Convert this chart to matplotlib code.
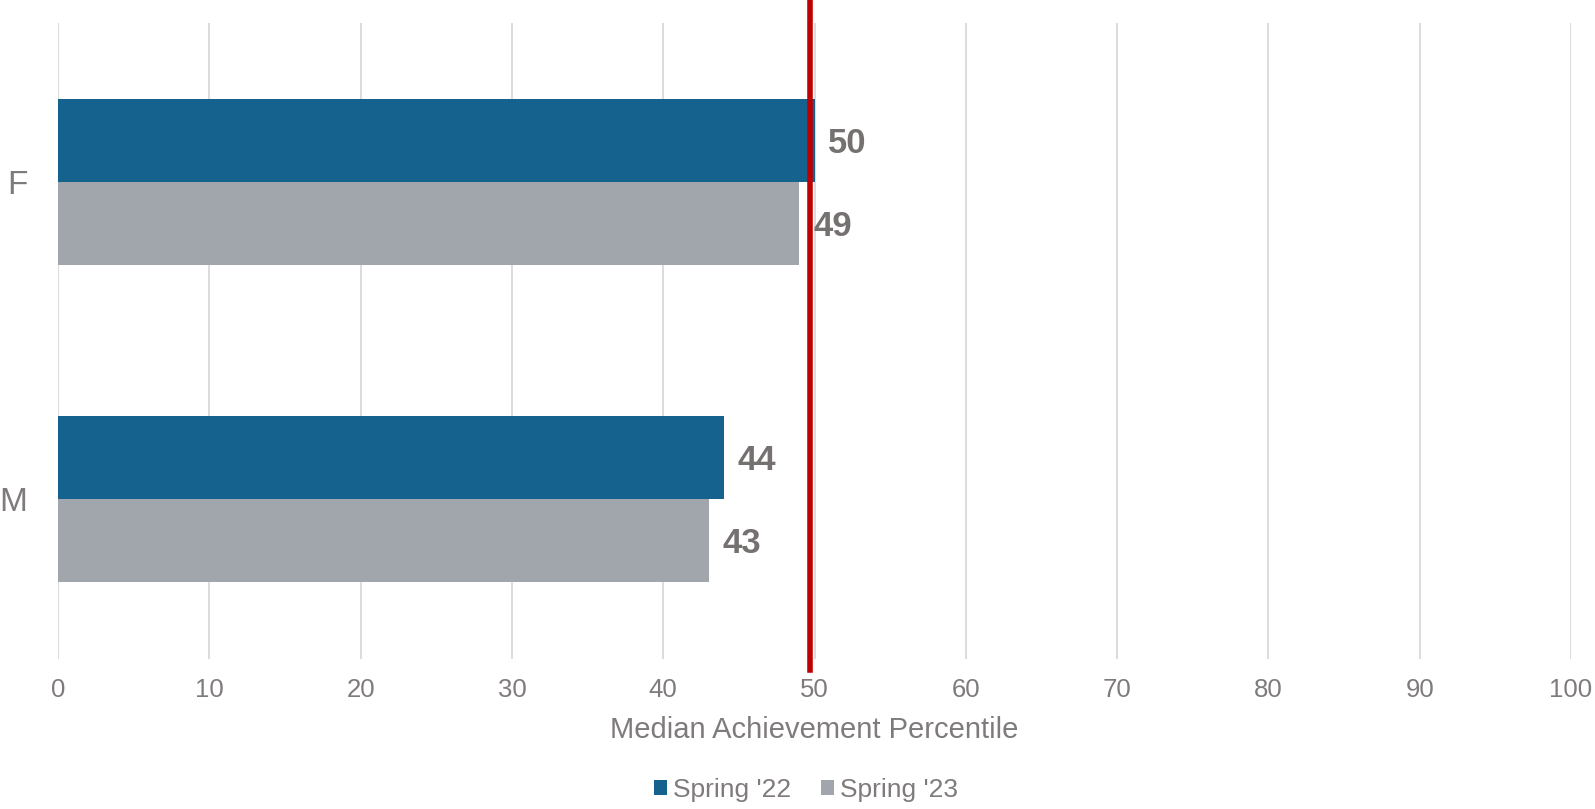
import matplotlib
matplotlib.use("Agg")
import matplotlib.pyplot as plt
from matplotlib.patches import Patch

categories = ["F", "M"]
spring22 = [50, 44]
spring23 = [49, 43]
series_names = ["Spring '22", "Spring '23"]
benchmark = 49.7
xticks = list(range(0, 101, 10))
xlabel = "Median Achievement Percentile"

blue = "#15628F"
gray = "#A0A6AC"
red = "#C00000"
text_gray = "#767171"
tick_gray = "#807B7B"
grid_gray = "#D9D9D9"

plt.rcParams["font.family"] = ["Liberation Sans", "DejaVu Sans"]

W, H, DPI = 1595, 809, 100
fig = plt.figure(figsize=(W / DPI, H / DPI), dpi=DPI)
ax = fig.add_axes([58 / W, 1 - 659 / H, (1571 - 58) / W, (659 - 22.5) / H])

n = len(categories)
ypos = [n - 1 - i for i in range(n)]  # F on top
h = 0.262
for y, v22, v23 in zip(ypos, spring22, spring23):
    ax.barh(y + h / 2, v22, height=h, color=blue, zorder=2)
    ax.barh(y - h / 2, v23, height=h, color=gray, zorder=2)
    ax.annotate(f"{v22}", xy=(v22, y + h / 2), xytext=(10, -2), textcoords="offset points",
                ha="left", va="center", fontsize=25, fontweight="bold", color=text_gray, zorder=3)
    ax.annotate(f"{v23}", xy=(v23, y - h / 2), xytext=(10, -2), textcoords="offset points",
                ha="left", va="center", fontsize=25, fontweight="bold", color=text_gray, zorder=3)

ax.axvline(benchmark, ymin=-0.018, ymax=1.04, color=red, linewidth=4, clip_on=False, zorder=5)

ax.set_xlim(0, 100)
ax.set_ylim(-0.504, 1.504)
ax.set_xticks(xticks)
ax.set_xticklabels([str(t) for t in xticks])
ax.set_yticks(ypos)
ax.set_yticklabels(categories)
ax.tick_params(axis="x", length=0, pad=14, labelsize=18.5, labelcolor=tick_gray)
ax.tick_params(axis="y", length=0, pad=22, labelsize=24, labelcolor=tick_gray)
for lbl in ax.get_yticklabels():
    lbl.set_y(lbl.get_position()[1])
ax.xaxis.grid(True, color=grid_gray, linewidth=1.3, zorder=0)
ax.set_axisbelow(True)
for s in ax.spines.values():
    s.set_visible(False)

ax.set_xlabel(xlabel, fontsize=21, color=tick_gray, labelpad=10)

handles = [Patch(facecolor=blue, edgecolor="none"), Patch(facecolor=gray, edgecolor="none")]
fig.legend(handles, series_names, loc="center", bbox_to_anchor=(806 / W, 1 - 790 / H), ncol=2,
           frameon=False, fontsize=19, labelcolor=tick_gray, handlelength=0.5, handleheight=0.5,
           handletextpad=0.25, columnspacing=1.1)

fig.savefig("out.png", dpi=DPI)
